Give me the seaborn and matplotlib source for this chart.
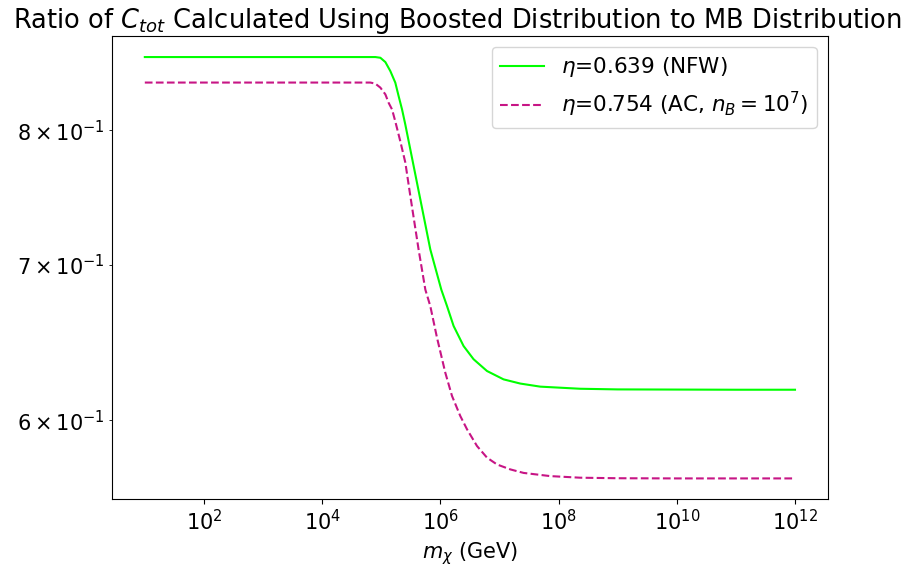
import numpy as np
import pandas as pd
import matplotlib
matplotlib.use("Agg")
import matplotlib.pyplot as plt
import matplotlib.ticker as mticker
import seaborn as sns

# log10 of m_chi (GeV) and ratio values
nfw_logm = [1.0, 2.0, 3.0, 4.0, 4.5, 4.900, 4.985, 5.070, 5.154, 5.238, 5.294,
            5.352, 5.407, 5.492, 5.661, 5.830, 6.016, 6.113, 6.224, 6.393,
            6.562, 6.789, 7.069, 7.352, 7.690, 8.366, 9.0, 10.0, 11.0, 12.0]
nfw_ratio = [0.8604, 0.8604, 0.8604, 0.8604, 0.8604, 0.8604, 0.8598, 0.8561,
             0.8485, 0.8388, 0.8277, 0.8168, 0.8047, 0.7850, 0.7471, 0.7109,
             0.6831, 0.6720, 0.6589, 0.6459, 0.6375, 0.6301, 0.6249, 0.6223,
             0.6204, 0.6191, 0.6187, 0.6186, 0.6185, 0.6185]

ac_logm = [1.0, 2.0, 3.0, 4.0, 4.5, 4.816, 4.900, 4.985, 5.070, 5.125, 5.183,
           5.238, 5.323, 5.407, 5.492, 5.632, 5.746, 5.830, 5.943, 6.084,
           6.197, 6.337, 6.451, 6.620, 6.789, 6.958, 7.183, 7.408, 7.859,
           8.366, 9.0, 10.0, 11.0, 12.0]
ac_ratio = [0.8389, 0.8389, 0.8389, 0.8389, 0.8389, 0.8389, 0.8380, 0.8347,
            0.8291, 0.8222, 0.8168, 0.8071, 0.7913, 0.7750, 0.7496, 0.7108,
            0.6831, 0.6720, 0.6513, 0.6290, 0.6147, 0.6026, 0.5947, 0.5849,
            0.5782, 0.5743, 0.5715, 0.5695, 0.5677, 0.5668, 0.5665, 0.5664,
            0.5664, 0.5664]

x_ticks = [1e2, 1e4, 1e6, 1e8, 1e10, 1e12]

nfw = pd.DataFrame({"m": 10 ** np.array(nfw_logm), "ratio": nfw_ratio})
ac = pd.DataFrame({"m": 10 ** np.array(ac_logm), "ratio": ac_ratio})

fig = plt.figure(figsize=(9.16, 5.73), dpi=100)
ax = fig.add_axes([0.1226, 0.1283, 0.9034 - 0.1226, 0.9372 - 0.1283])

sns.lineplot(data=nfw, x="m", y="ratio", ax=ax, color="lime", linewidth=1.5,
             label=r"$\eta$=0.639 (NFW)", sort=False)
sns.lineplot(data=ac, x="m", y="ratio", ax=ax, color="mediumvioletred",
             linewidth=1.5, linestyle="--",
             label=r"$\eta$=0.754 (AC, $n_B=10^7$)", sort=False)

ax.set_xscale("log")
ax.set_yscale("log")
ax.set_xticks(x_ticks)
ax.xaxis.set_minor_locator(mticker.NullLocator())
ax.tick_params(axis="both", which="both", labelsize=15)
ax.set_xlabel(r"$m_\chi$ (GeV)", fontsize=15)
ax.set_ylabel("")
ax.set_title(r"Ratio of $C_{tot}$ Calculated Using Boosted Distribution to MB Distribution",
             fontsize=18.5, x=0.482)
ax.legend(loc="upper right", fontsize=15.5)

fig.savefig("out.png", dpi=100)
